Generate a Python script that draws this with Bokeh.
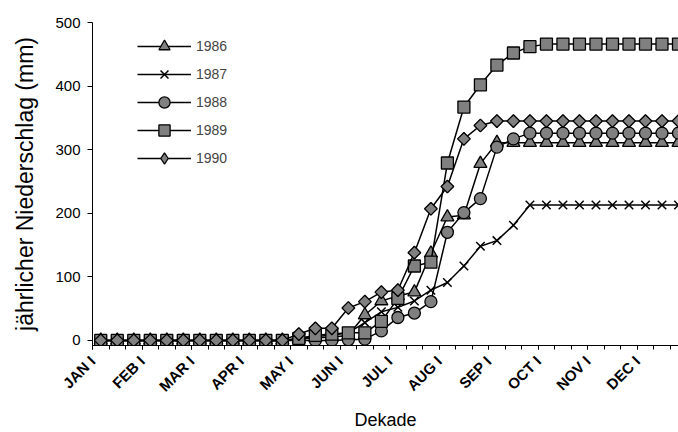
import math
from bokeh.plotting import figure
from bokeh.models import Range1d, FixedTicker, Legend, LegendItem
from bokeh.embed import file_html
from bokeh.resources import INLINE

# 36 dekades (3 per month)
dekade = list(range(36))
month_labels = ["JAN I", "FEB I", "MAR I", "APR I", "MAY I", "JUN I",
                "JUL I", "AUG I", "SEP I", "OCT I", "NOV I", "DEC I"]
y_ticks = [0, 100, 200, 300, 400, 500]

y1986 = [0, 0, 0, 0, 0, 0, 0, 0, 0, 0, 0, 0,
         2, 4, 5, 8, 40, 62, 70, 76, 137, 194, 197, 278,
         311, 311, 311, 311, 311, 311, 311, 311, 311, 311, 311, 311]
y1987 = [0, 0, 0, 0, 0, 0, 0, 0, 0, 0, 0, 0,
         3, 6, 8, 12, 28, 45, 52, 62, 79, 91, 117, 148,
         157, 181, 213, 213, 213, 213, 213, 213, 213, 213, 213, 213]
y1988 = [0, 0, 0, 0, 0, 0, 0, 0, 0, 0, 0, 0,
         0, 0, 0, 1, 2, 15, 36, 43, 61, 170, 201, 223,
         304, 317, 326, 326, 326, 326, 326, 326, 326, 326, 326, 326]
y1989 = [0, 0, 0, 0, 0, 0, 0, 0, 0, 0, 0, 0,
         3, 8, 10, 12, 12, 30, 66, 117, 123, 279, 367, 402,
         433, 452, 462, 466, 466, 466, 466, 466, 466, 466, 466, 466]
y1990 = [0, 0, 0, 0, 0, 0, 0, 0, 0, 0, 0, 0,
         10, 19, 19, 51, 61, 76, 79, 138, 207, 242, 317, 338,
         345, 345, 345, 345, 345, 345, 345, 345, 345, 345, 345, 345]

FONT = "Liberation Sans"
GREY = "#808080"

p = figure(width=678, height=432, output_backend="svg", toolbar_location=None,
           x_range=Range1d(-0.5, 35.0), y_range=Range1d(-8, 500),
           min_border_left=92, min_border_right=0, min_border_top=22,
           min_border_bottom=86)
p.outline_line_color = None
p.xgrid.visible = False
p.ygrid.visible = False
p.background_fill_color = "white"

mk_style = dict(fill_color=GREY, line_color="black", line_width=1.3)
series = [
    ("1986", y1986, dict(marker="triangle", size=13, **mk_style)),
    ("1987", y1987, dict(marker="x", size=12, line_color="black", line_width=1.5)),
    ("1988", y1988, dict(marker="circle", size=12, **mk_style)),
    ("1989", y1989, dict(marker="square", size=12, **mk_style)),
    ("1990", y1990, dict(marker="square", angle=math.pi / 4, size=9, **mk_style)),
]

items = []
for name, ys, mk in series:
    ln = p.line(dekade, ys, line_color="black", line_width=1.5)
    rends = [ln]
    if name == "1990":
        # diamond glyph hidden beneath the rotated squares; used as legend key
        # (legend keys are always drawn unrotated)
        key = p.scatter(dekade, ys, marker="diamond", size=12, **mk_style)
        rends.append(key)
    sc = p.scatter(dekade, ys, **mk)
    if name != "1990":
        rends.append(sc)
    items.append(LegendItem(label=name, renderers=rends))

legend = Legend(items=items, location=(45, 173), glyph_width=54, glyph_height=28,
                label_height=28, label_standoff=5, spacing=0, padding=0, margin=0,
                border_line_color=None, background_fill_alpha=0,
                label_text_font=FONT, label_text_font_size="14px")
p.add_layout(legend)

# y axis
ya = p.yaxis[0]
ya.ticker = FixedTicker(ticks=y_ticks)
ya.major_tick_out = 5
ya.major_tick_in = 0
ya.minor_tick_out = 0
ya.minor_tick_in = 0
ya.axis_line_color = "black"
ya.major_label_text_font = FONT
ya.major_label_text_font_size = "15px"
ya.major_label_text_color = "black"
ya.major_label_standoff = 7
ya.axis_label = "jährlicher Niederschlag (mm)"
ya.axis_label_text_font = FONT
ya.axis_label_text_font_size = "23px"
ya.axis_label_text_font_style = "normal"
ya.axis_label_text_color = "black"
ya.axis_label_standoff = 14

# x axis
xa = p.xaxis[0]
major = [3 * k - 0.5 for k in range(12)]
minor = [k - 0.5 for k in range(37)]
xa.ticker = FixedTicker(ticks=major, minor_ticks=minor)
xa.major_label_overrides = {t: lab for t, lab in zip(major, month_labels)}
xa.major_tick_out = 4
xa.major_tick_in = 0
xa.minor_tick_out = 4
xa.minor_tick_in = 0
xa.axis_line_color = "black"
xa.major_label_orientation = math.pi / 4
xa.major_label_text_font = FONT
xa.major_label_text_font_size = "15px"
xa.major_label_text_font_style = "bold"
xa.major_label_text_color = "black"
xa.major_label_standoff = 9
xa.axis_label = "Dekade"
xa.axis_label_text_font = FONT
xa.axis_label_text_font_size = "18px"
xa.axis_label_text_font_style = "normal"
xa.axis_label_text_color = "black"
xa.axis_label_standoff = 6

open("out.html", "w").write(file_html(p, INLINE))
